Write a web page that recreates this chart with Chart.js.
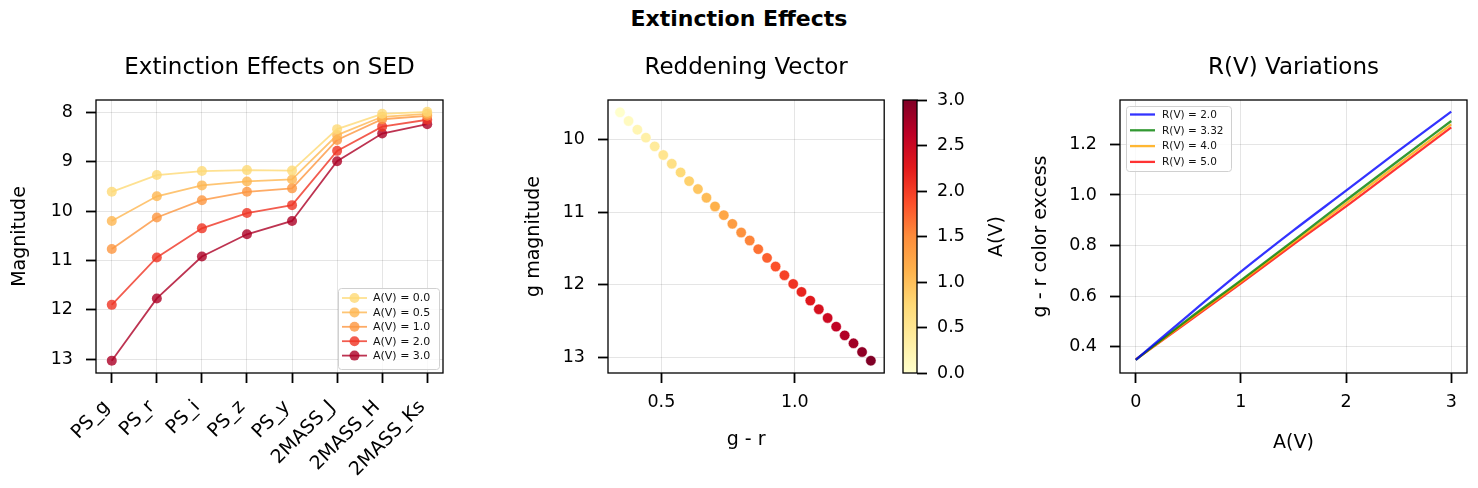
<!DOCTYPE html>
<html>
<head>
<meta charset="utf-8">
<script src="https://cdn.jsdelivr.net/npm/chart.js@4.4.1/dist/chart.umd.min.js"></script>
<style>
  body { margin: 0; background: #fff; }
  #fig { position: relative; width: 1478px; height: 488px; overflow: hidden; }
  #fig canvas { position: absolute; top: 0; }
  #suptitle {
    position: absolute; left: 0; top: 6px; width: 1478px; text-align: center;
    font: bold 22px "DejaVu Sans"; color: #000;
  }
</style>
</head>
<body>
<div id="fig">
  <div id="suptitle">Extinction Effects</div>
  <canvas id="sedChart" width="452" height="488" style="left:0px"></canvas>
  <canvas id="vectorChart" width="380" height="488" style="left:510px"></canvas>
  <canvas id="colorbar" width="125" height="488" style="left:890px"></canvas>
  <canvas id="rvChart" width="468" height="488" style="left:1010px"></canvas>
</div>
<script>
// ---- data ----
const bands = ["PS_g", "PS_r", "PS_i", "PS_z", "PS_y", "2MASS_J", "2MASS_H", "2MASS_Ks"];
const avLevels = [0.0, 0.5, 1.0, 2.0, 3.0];
const magAv0 = [9.61, 9.27, 9.19, 9.17, 9.18, 8.34, 8.03, 7.99];
const magAv05 = [10.20, 9.70, 9.48, 9.40, 9.36, 8.46, 8.09, 8.03];
const magAv1 = [10.77, 10.13, 9.78, 9.61, 9.54, 8.56, 8.14, 8.07];
const magAv2 = [11.90, 10.94, 10.35, 10.04, 9.88, 8.78, 8.29, 8.15];
const magAv3 = [13.03, 11.77, 10.92, 10.47, 10.20, 8.99, 8.43, 8.24];
const magTicks = [8, 9, 10, 11, 12, 13];

// reddening vector (30 steps in A(V))
const vecAv = [0.00, 0.10, 0.21, 0.31, 0.41, 0.52, 0.62, 0.72, 0.83, 0.93,
  1.03, 1.14, 1.24, 1.34, 1.45, 1.55, 1.66, 1.76, 1.86, 1.97,
  2.07, 2.17, 2.28, 2.38, 2.48, 2.59, 2.69, 2.79, 2.90, 3.00];
const vecGr = [0.345, 0.377, 0.410, 0.442, 0.475, 0.507, 0.539, 0.572, 0.604, 0.637,
  0.669, 0.701, 0.734, 0.766, 0.799, 0.831, 0.863, 0.896, 0.928, 0.961,
  0.994, 1.025, 1.058, 1.090, 1.123, 1.155, 1.187, 1.220, 1.252, 1.285];
const vecG = [9.62, 9.74, 9.86, 9.97, 10.09, 10.21, 10.33, 10.45, 10.57, 10.68,
  10.80, 10.92, 11.04, 11.16, 11.28, 11.39, 11.51, 11.63, 11.75, 11.87,
  11.99, 12.10, 12.22, 12.34, 12.46, 12.58, 12.70, 12.81, 12.93, 13.05];
const grTicks = [0.5, 1.0];
const gTicks = [10, 11, 12, 13];
const cbTicks = [0, 0.5, 1.0, 1.5, 2.0, 2.5, 3.0];

// R(V) variations
const avGrid = [0, 0.5, 1.0, 1.5, 2.0, 2.5, 3.0];
const rvLabels = ["R(V) = 2.0", "R(V) = 3.32", "R(V) = 4.0", "R(V) = 5.0"];
const excessRv2 = [0.349, 0.525, 0.697, 0.860, 1.017, 1.175, 1.329];
const excessRv332 = [0.349, 0.510, 0.663, 0.820, 0.979, 1.136, 1.292];
const excessRv4 = [0.349, 0.505, 0.657, 0.813, 0.967, 1.123, 1.279];
const excessRv5 = [0.351, 0.500, 0.651, 0.805, 0.955, 1.111, 1.267];
const avTicks = [0, 1, 2, 3];
const excessTicks = [0.4, 0.6, 0.8, 1.0, 1.2];

// ---- styling helpers ----
const FONT = "DejaVu Sans";
const gridColor = "rgba(0,0,0,0.1)";
const ylorrd = ["#ffffcc", "#ffeda0", "#fed976", "#feb24c", "#fd8d3c", "#fc4e2a", "#e31a1c", "#bd0026", "#800026"];
const TITLE_Y = 74;

function hexRgb(h) {
  return [parseInt(h.slice(1, 3), 16), parseInt(h.slice(3, 5), 16), parseInt(h.slice(5, 7), 16)];
}
function cmap(t, alpha = 1) {
  t = Math.min(1, Math.max(0, t));
  const s = t * (ylorrd.length - 1);
  const i = Math.min(Math.floor(s), ylorrd.length - 2);
  const f = s - i;
  const a = hexRgb(ylorrd[i]), b = hexRgb(ylorrd[i + 1]);
  const c = a.map((v, k) => Math.round(v + (b[k] - v) * f));
  return `rgba(${c[0]},${c[1]},${c[2]},${alpha})`;
}

const tickFont = { family: FONT, size: 17.5 };
const bandFont = { family: FONT, size: 19 };
const labelFont = { family: FONT, size: 19 };

function axisGrid(onArea = true) {
  return { color: gridColor, lineWidth: 1, tickColor: "#000", tickLength: 10, tickWidth: 1.8, drawOnChartArea: onArea };
}
function fixedTicks(values) {
  return scale => { scale.ticks = values.map(v => ({ value: v })); };
}

// black box round the plot area
const framePlugin = {
  id: "frame",
  afterDatasetsDraw(chart) {
    const a = chart.chartArea, ctx = chart.ctx;
    ctx.save();
    ctx.strokeStyle = "#000";
    ctx.lineWidth = 1.3;
    ctx.strokeRect(a.left, a.top, a.right - a.left, a.bottom - a.top);
    ctx.restore();
  }
};

// panel title centred over the plot area
const panelTitle = {
  id: "panelTitle",
  afterDraw(chart, args, opts) {
    if (!opts.text) return;
    const a = chart.chartArea, ctx = chart.ctx;
    ctx.save();
    ctx.fillStyle = "#000";
    ctx.font = `${opts.size || 23}px "${FONT}"`;
    ctx.textAlign = "center";
    ctx.textBaseline = "alphabetic";
    if (opts.rotate) {
      ctx.translate(opts.x, (a.top + a.bottom) / 2);
      ctx.rotate(-Math.PI / 2);
      ctx.textBaseline = "middle";
      ctx.fillText(opts.text, 0, 0);
    } else {
      ctx.fillText(opts.text, (a.left + a.right) / 2, opts.y);
    }
    ctx.restore();
  }
};

// legend drawn inside the plot area, like matplotlib
const boxLegend = {
  id: "boxLegend",
  afterDraw(chart, args, opts) {
    if (!opts.w) return;
    const a = chart.chartArea, ctx = chart.ctx;
    const x = opts.corner === "br" ? a.right - opts.margin - opts.w : a.left + opts.margin;
    const y = opts.corner === "br" ? a.bottom - opts.margin - opts.h : a.top + opts.margin;
    ctx.save();
    ctx.fillStyle = "rgba(255,255,255,0.8)";
    ctx.strokeStyle = "#d0d0d0";
    ctx.lineWidth = 1;
    ctx.beginPath();
    ctx.roundRect(x + 0.5, y + 0.5, opts.w, opts.h, 3);
    ctx.fill();
    ctx.stroke();
    ctx.font = `${opts.size}px "${FONT}"`;
    ctx.textBaseline = "middle";
    chart.data.datasets.forEach((ds, i) => {
      const cy = y + opts.first + i * opts.rowH;
      ctx.strokeStyle = ds.borderColor;
      ctx.lineWidth = ds.borderWidth;
      ctx.beginPath();
      ctx.moveTo(x + opts.hx0, cy);
      ctx.lineTo(x + opts.hx1, cy);
      ctx.stroke();
      if (opts.marker) {
        ctx.fillStyle = ds.pointBackgroundColor;
        ctx.beginPath();
        ctx.arc(x + (opts.hx0 + opts.hx1) / 2, cy, ds.pointRadius, 0, Math.PI * 2);
        ctx.fill();
      }
      ctx.fillStyle = "#111";
      ctx.fillText(ds.label, x + opts.tx, cy + 0.5);
    });
    ctx.restore();
  }
};

Chart.register(framePlugin, panelTitle, boxLegend);
Chart.defaults.font.family = FONT;
Chart.defaults.color = "#000";

const common = {
  responsive: false,
  animation: false,
  devicePixelRatio: 1,
  events: []
};

// ---- panel 1: SED ----
const sedSeries = [magAv0, magAv05, magAv1, magAv2, magAv3];
new Chart(document.getElementById("sedChart"), {
  type: "line",
  data: {
    datasets: sedSeries.map((mags, k) => {
      const col = cmap(0.25 + avLevels[k] * 0.22, 0.8);
      return {
        label: `A(V) = ${avLevels[k].toFixed(1)}`,
        data: mags.map((m, i) => ({ x: i, y: m })),
        borderColor: col,
        backgroundColor: col,
        pointBackgroundColor: col,
        pointBorderWidth: 0,
        pointRadius: 5,
        borderWidth: 1.8,
        tension: 0
      };
    })
  },
  options: {
    ...common,
    layout: { padding: { top: 100, right: 9, left: 0, bottom: 0 } },
    plugins: {
      legend: { display: false },
      tooltip: { enabled: false },
      panelTitle: { text: "Extinction Effects on SED", y: TITLE_Y },
      boxLegend: { corner: "br", margin: 4, w: 101, h: 81, first: 10, rowH: 14.4, hx0: 4, hx1: 29, tx: 35, size: 11, marker: true }
    },
    scales: {
      x: {
        type: "linear", min: -0.35, max: 7.35,
        afterBuildTicks: fixedTicks(bands.map((b, i) => i)),
        // fixed axis height; rotated labels may hang outside the plot width
        afterFit: s => { s.height = 115; s.paddingLeft = 0; s.paddingRight = 0; },
        ticks: { autoSkip: false, minRotation: 45, maxRotation: 45, padding: 13, labelOffset: -5,
          font: bandFont, color: "#000", callback: v => bands[v] },
        grid: axisGrid(),
        border: { display: false }
      },
      y: {
        reverse: true, min: 7.75, max: 13.28,
        afterBuildTicks: fixedTicks(magTicks),
        afterFit: s => { s.width = 96; },
        ticks: { padding: 13, font: tickFont, color: "#000", callback: v => String(v) },
        grid: axisGrid(),
        border: { display: false },
        title: { display: true, text: "Magnitude", font: labelFont, color: "#000", padding: { top: 9 } }
      }
    }
  }
});

// ---- panel 2: reddening vector ----
new Chart(document.getElementById("vectorChart"), {
  type: "scatter",
  data: {
    datasets: [{
      label: "reddening",
      data: vecGr.map((gr, i) => ({ x: gr, y: vecG[i] })),
      pointBackgroundColor: vecAv.map(a => cmap(a / 3, 1)),
      pointBorderColor: "rgba(255,255,255,0.8)",
      pointBorderWidth: 0.6,
      pointRadius: 5.2
    }]
  },
  options: {
    ...common,
    layout: { padding: { top: 100, right: 4, left: 0, bottom: 0 } },
    plugins: {
      legend: { display: false },
      tooltip: { enabled: false },
      panelTitle: { text: "Reddening Vector", y: TITLE_Y }
    },
    scales: {
      x: {
        type: "linear", min: 0.30, max: 1.335,
        afterBuildTicks: fixedTicks(grTicks),
        afterFit: s => { s.height = 115; },
        ticks: { padding: 9, font: tickFont, color: "#000", callback: v => v.toFixed(1) },
        grid: axisGrid(),
        border: { display: false },
        title: { display: true, text: "g - r", font: labelFont, color: "#000", padding: { bottom: 37 } }
      },
      y: {
        reverse: true, min: 9.45, max: 13.22,
        afterBuildTicks: fixedTicks(gTicks),
        afterFit: s => { s.width = 98; },
        ticks: { padding: 13, font: tickFont, color: "#000", callback: v => String(v) },
        grid: axisGrid(),
        border: { display: false },
        title: { display: true, text: "g magnitude", font: labelFont, color: "#000", padding: { top: 13 } }
      }
    }
  }
});

// ---- colorbar for A(V) ----
new Chart(document.getElementById("colorbar"), {
  type: "bar",
  data: {
    labels: ["A(V)"],
    datasets: [{
      label: "A(V)",
      data: [[cbTicks[0], cbTicks[cbTicks.length - 1]]],
      barPercentage: 1,
      categoryPercentage: 1,
      borderWidth: 0,
      backgroundColor: ctx => {
        const a = ctx.chart.chartArea;
        if (!a) return ylorrd[4];
        const g = ctx.chart.ctx.createLinearGradient(0, a.bottom, 0, a.top);
        ylorrd.forEach((c, i) => g.addColorStop(i / (ylorrd.length - 1), c));
        return g;
      }
    }]
  },
  options: {
    ...common,
    layout: { padding: { top: 100, right: 0, left: 13, bottom: 115 } },
    plugins: {
      legend: { display: false },
      tooltip: { enabled: false },
      panelTitle: { text: "A(V)", rotate: true, x: 107, size: 19 }
    },
    scales: {
      x: { display: false },
      y: {
        position: "right", min: 0, max: 3,
        afterBuildTicks: fixedTicks(cbTicks),
        afterFit: s => { s.width = 98; },
        ticks: { padding: 10, font: tickFont, color: "#000", callback: v => v.toFixed(1) },
        grid: axisGrid(false),
        border: { display: false }
      }
    }
  }
});

// ---- panel 3: R(V) variations ----
const rvSeries = [excessRv2, excessRv332, excessRv4, excessRv5];
const rvColors = ["rgba(0,0,255,0.8)", "rgba(0,128,0,0.8)", "rgba(255,165,0,0.8)", "rgba(255,0,0,0.8)"];
new Chart(document.getElementById("rvChart"), {
  type: "line",
  data: {
    datasets: rvSeries.map((vals, k) => ({
      label: rvLabels[k],
      data: vals.map((v, i) => ({ x: avGrid[i], y: v })),
      borderColor: rvColors[k],
      backgroundColor: rvColors[k],
      borderWidth: 2.3,
      pointRadius: 0,
      cubicInterpolationMode: "monotone"
    }))
  },
  options: {
    ...common,
    layout: { padding: { top: 100, right: 11, left: 0, bottom: 0 } },
    plugins: {
      legend: { display: false },
      tooltip: { enabled: false },
      panelTitle: { text: "R(V) Variations", y: TITLE_Y },
      boxLegend: { corner: "tl", margin: 6, w: 105, h: 65, first: 8.5, rowH: 15.8, hx0: 4, hx1: 29, tx: 36, size: 10.5, marker: false }
    },
    scales: {
      x: {
        type: "linear", min: -0.15, max: 3.15,
        afterBuildTicks: fixedTicks(avTicks),
        afterFit: s => { s.height = 115; },
        ticks: { padding: 9, font: tickFont, color: "#000", callback: v => String(v) },
        grid: axisGrid(),
        border: { display: false },
        title: { display: true, text: "A(V)", font: labelFont, color: "#000", padding: { bottom: 34 } }
      },
      y: {
        min: 0.297, max: 1.375,
        afterBuildTicks: fixedTicks(excessTicks),
        afterFit: s => { s.width = 110; },
        ticks: { padding: 13, font: tickFont, color: "#000", callback: v => v.toFixed(1) },
        grid: axisGrid(),
        border: { display: false },
        title: { display: true, text: "g - r color excess", font: labelFont, color: "#000", padding: { top: 20 } }
      }
    }
  }
});
</script>
</body>
</html>
